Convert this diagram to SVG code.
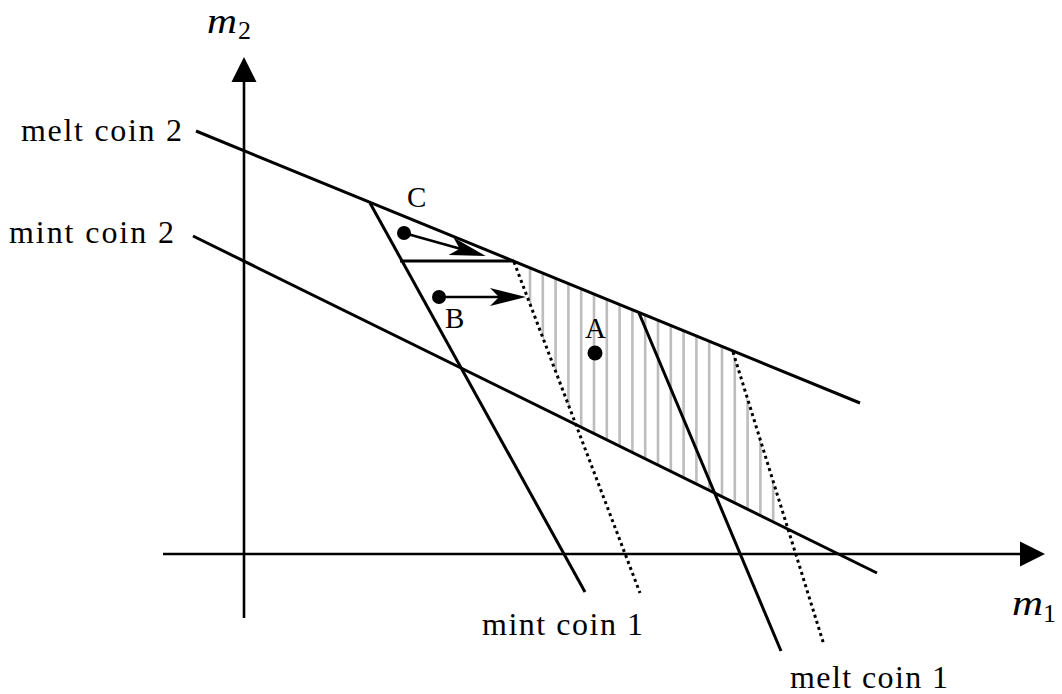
<svg xmlns="http://www.w3.org/2000/svg" width="1062" height="694" viewBox="0 0 1062 694">
  <style>
    .ln { stroke: #000; stroke-width: 3; fill: none; stroke-linecap: butt; }
    .ax { stroke: #000; stroke-width: 2.6; fill: none; }
    .dot { stroke: #000; stroke-width: 3; stroke-dasharray: 3 3.4; fill: none; }
    .hatch { stroke: #bdbdbd; stroke-width: 2.6; }
    .arr { stroke: #000; stroke-width: 2.6; fill: none; marker-end: url(#stealth); }
    .lbl { font-family: "Liberation Serif", "Times New Roman", serif; font-size: 32px; fill: #000; }
    .pt { font-family: "Liberation Serif", "Times New Roman", serif; font-size: 29px; fill: #000; }
    .var { font-family: "Liberation Serif", "Times New Roman", serif; font-size: 36px; font-style: italic; fill: #000; }
    .sub { font-family: "Liberation Serif", "Times New Roman", serif; font-size: 26px; fill: #000; }
  </style>
  <defs>
    <clipPath id="region">
      <polygon points="514,262 733,352 787,527 575,423"/>
    </clipPath>
    <marker id="stealth" markerUnits="userSpaceOnUse" markerWidth="50" markerHeight="30" refX="0" refY="0" orient="auto" overflow="visible">
      <path d="M8,0 L-28,-9 L-19,0 L-28,9 Z" fill="#000"/>
    </marker>
  </defs>

  <g id="hatching" clip-path="url(#region)">
    <line class="hatch" x1="530" y1="250" x2="530" y2="540"/>
    <line class="hatch" x1="542.8" y1="250" x2="542.8" y2="540"/>
    <line class="hatch" x1="555.6" y1="250" x2="555.6" y2="540"/>
    <line class="hatch" x1="568.4" y1="250" x2="568.4" y2="540"/>
    <line class="hatch" x1="581.2" y1="250" x2="581.2" y2="540"/>
    <line class="hatch" x1="594" y1="250" x2="594" y2="540"/>
    <line class="hatch" x1="606.8" y1="250" x2="606.8" y2="540"/>
    <line class="hatch" x1="619.6" y1="250" x2="619.6" y2="540"/>
    <line class="hatch" x1="632.4" y1="250" x2="632.4" y2="540"/>
    <line class="hatch" x1="645.2" y1="250" x2="645.2" y2="540"/>
    <line class="hatch" x1="658" y1="250" x2="658" y2="540"/>
    <line class="hatch" x1="670.8" y1="250" x2="670.8" y2="540"/>
    <line class="hatch" x1="683.6" y1="250" x2="683.6" y2="540"/>
    <line class="hatch" x1="696.4" y1="250" x2="696.4" y2="540"/>
    <line class="hatch" x1="709.2" y1="250" x2="709.2" y2="540"/>
    <line class="hatch" x1="722" y1="250" x2="722" y2="540"/>
    <line class="hatch" x1="734.8" y1="250" x2="734.8" y2="540"/>
    <line class="hatch" x1="747.6" y1="250" x2="747.6" y2="540"/>
    <line class="hatch" x1="760.4" y1="250" x2="760.4" y2="540"/>
    <line class="hatch" x1="773.2" y1="250" x2="773.2" y2="540"/>
  </g>

  <g id="axes">
    <line class="ax" x1="244" y1="618" x2="244" y2="80"/>
    <polygon points="244,57 231.5,82 256.5,82" fill="#000"/>
    <line class="ax" x1="163" y1="554" x2="1022" y2="554"/>
    <polygon points="1045,554 1020,541.5 1020,566.5" fill="#000"/>
    <text class="var" x="207" y="33" textLength="30" lengthAdjust="spacingAndGlyphs">m</text>
    <text class="sub" x="238" y="39">2</text>
    <text class="var" x="1012" y="615" textLength="31" lengthAdjust="spacingAndGlyphs">m</text>
    <text class="sub" x="1043" y="622">1</text>
  </g>

  <g id="connectors">
    <line id="melt-coin-2-line" class="ln" x1="196" y1="131" x2="860" y2="403"/>
    <line id="mint-coin-2-line" class="ln" x1="193" y1="236" x2="877" y2="573"/>
    <line id="mint-coin-1-line" class="ln" x1="370" y1="203" x2="585" y2="592"/>
    <line id="melt-coin-1-line" class="ln" x1="639" y1="313" x2="781" y2="651"/>
    <line id="dotted-1" class="dot" x1="514" y1="262" x2="640" y2="593"/>
    <line id="dotted-2" class="dot" x1="733" y1="352" x2="824" y2="645"/>
    <line id="horizontal" class="ln" x1="400" y1="261" x2="514" y2="261"/>
    <line id="arrow-C" class="arr" x1="404" y1="233" x2="478" y2="253.8"/>
    <line id="arrow-B" class="arr" x1="439" y1="297" x2="518" y2="297"/>
  </g>

  <g id="point-C">
    <circle cx="404" cy="233" r="7" fill="#000"/>
    <text class="pt" x="407" y="207">C</text>
  </g>
  <g id="point-B">
    <circle cx="439" cy="297" r="7" fill="#000"/>
    <text class="pt" x="445" y="328">B</text>
  </g>
  <g id="point-A">
    <circle cx="595" cy="353" r="7.5" fill="#000"/>
    <text class="pt" x="585" y="338">A</text>
  </g>

  <g id="labels">
    <text class="lbl" x="21" y="141" textLength="161" lengthAdjust="spacing">melt coin 2</text>
    <text class="lbl" x="9" y="243" textLength="165" lengthAdjust="spacing">mint coin 2</text>
    <text class="lbl" x="482" y="635" textLength="161" lengthAdjust="spacing">mint coin 1</text>
    <text class="lbl" x="790" y="688" textLength="158" lengthAdjust="spacing">melt coin 1</text>
  </g>
</svg>
